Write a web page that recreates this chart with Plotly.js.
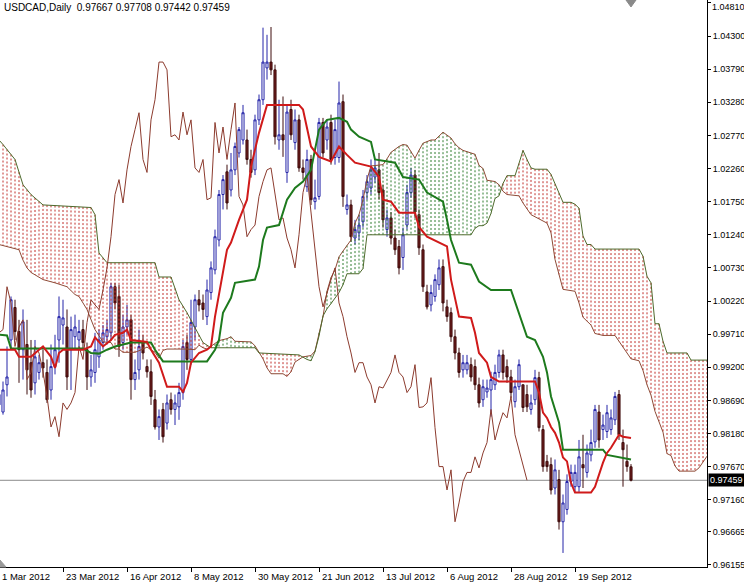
<!DOCTYPE html>
<html><head><meta charset="utf-8">
<script src="https://cdn.plot.ly/plotly-3.0.1.min.js"></script>
<style>html,body{margin:0;padding:0;background:#fff;overflow:hidden}#chart{width:744px;height:583px}</style>
</head><body><div id="chart"></div>
<script>
// ---- chart header ----
const symbolTitle = "USDCAD,Daily";
const lastOHLC = [0.97667, 0.97708, 0.97442, 0.97459];

// ---- x axis labels (bar index -> date text) ----
const dateLabelBars = [0, 16, 32, 48, 64, 80, 96, 112, 128, 144];
const dateLabels = ["1 Mar 2012", "23 Mar 2012", "16 Apr 2012", "8 May 2012", "30 May 2012",
  "21 Jun 2012", "13 Jul 2012", "6 Aug 2012", "28 Aug 2012", "19 Sep 2012"];

// ---- y axis labels ----
const priceTicks = [1.04810, 1.04300, 1.03790, 1.03280, 1.02770, 1.02260, 1.01750, 1.01240, 1.00730,
  1.00220, 0.99710, 0.99200, 0.98690, 0.98180, 0.97670, 0.97160, 0.96665, 0.96155];

// ---- daily candles (bar 0 = 1 Mar 2012) ----
const openP = [0.9862,0.9851,0.9893,0.9962,1.0012,0.9975,0.9947,0.9955,0.9927,0.9896,
0.9912,0.9927,0.9912,0.9885,0.9921,0.9962,0.9985,0.9982,0.9947,0.9967,
0.9962,0.9978,0.9947,0.9905,0.9912,0.9936,0.9958,0.9967,0.9973,1.0044,
1.0029,0.9958,0.9982,0.9993,0.9901,0.9916,0.9958,0.9921,0.9913,0.9870,
0.9828,0.9855,0.9834,0.9870,0.9855,0.9859,0.9881,0.9958,0.9932,0.9982,
1.0024,1.0019,0.9998,1.0035,1.0070,1.0116,1.0186,1.0221,1.0193,1.0224,
1.0250,1.0270,1.0270,1.0240,1.0224,1.0301,1.0332,1.0381,1.0390,1.0378,
1.0270,1.0278,1.0220,1.0317,1.0266,1.0301,1.0227,1.0198,1.0240,1.0175,
1.0183,1.0297,1.0270,1.0297,1.0243,1.0243,1.0329,1.0163,1.0170,1.0119,
1.0127,1.0144,1.0189,1.0196,1.0213,1.0224,1.0193,1.0132,1.0150,1.0119,
1.0106,1.0089,1.0139,1.0189,1.0216,1.0155,1.0101,1.0036,1.0016,1.0029,
1.0047,1.0075,1.0013,1.0004,0.9967,0.9942,0.9916,0.9916,0.9924,0.9921,
0.9893,0.9870,0.9882,0.9885,0.9893,0.9912,0.9939,0.9921,0.9905,0.9867,
0.9890,0.9893,0.9878,0.9855,0.9870,0.9904,0.9824,0.9775,0.9770,0.9734,
0.9747,0.9682,0.9701,0.9744,0.9736,0.9736,0.9770,0.9758,0.9785,0.9805,
0.9851,0.9824,0.9821,0.9824,0.9839,0.9878,0.9804,0.9775,0.97667];
const highP = [0.9893,0.9898,0.9952,1.0029,1.0024,0.9993,1.0009,0.9993,0.9962,0.9962,
0.9939,0.9947,0.9932,0.9955,0.9970,1.0029,1.0024,1.0009,0.9998,1.0001,
0.9993,0.9993,0.9958,0.9939,0.9973,0.9978,0.9985,0.9993,1.0050,1.0050,
1.0047,1.0001,1.0016,1.0001,0.9932,0.9978,0.9970,0.9932,0.9932,0.9885,
0.9855,0.9865,0.9878,0.9881,0.9878,0.9896,0.9962,0.9970,1.0024,1.0032,
1.0039,1.0032,1.0055,1.0083,1.0132,1.0193,1.0216,1.0232,1.0250,1.0266,
1.0290,1.0324,1.0286,1.0255,1.0309,1.0340,1.0443,1.0432,1.0444,1.0386,
1.0332,1.0337,1.0324,1.0332,1.0317,1.0309,1.0240,1.0255,1.0247,1.0209,
1.0304,1.0304,1.0301,1.0309,1.0301,1.0360,1.0340,1.0186,1.0178,1.0147,
1.0155,1.0193,1.0216,1.0240,1.0240,1.0250,1.0201,1.0163,1.0159,1.0132,
1.0116,1.0135,1.0201,1.0227,1.0224,1.0163,1.0109,1.0047,1.0047,1.0063,
1.0086,1.0086,1.0024,1.0012,0.9978,0.9950,0.9939,0.9939,0.9935,0.9932,
0.9904,0.9901,0.9901,0.9913,0.9924,0.9947,0.9947,0.9932,0.9916,0.9901,
0.9932,0.9893,0.9893,0.9878,0.9916,0.9913,0.9831,0.9785,0.9781,0.9778,
0.9762,0.9724,0.9755,0.9770,0.9770,0.9808,0.9816,0.9801,0.9824,0.9862,
0.9862,0.9847,0.9862,0.9855,0.9882,0.9885,0.9824,0.9801,0.97708];
const lowP = [0.9851,0.9847,0.9875,0.9947,0.9962,0.9896,0.9901,0.9878,0.9873,0.9878,
0.9901,0.9904,0.9865,0.9870,0.9909,0.9927,0.9955,0.9885,0.9885,0.9947,
0.9950,0.9947,0.9885,0.9890,0.9896,0.9919,0.9947,0.9955,0.9962,1.0009,
0.9936,0.9947,0.9970,0.9870,0.9885,0.9901,0.9932,0.9904,0.9862,0.9824,
0.9808,0.9804,0.9824,0.9847,0.9831,0.9839,0.9870,0.9916,0.9924,0.9962,
1.0006,0.9993,0.9985,1.0024,1.0063,1.0106,1.0163,1.0163,1.0183,1.0216,
1.0243,1.0263,1.0232,1.0212,1.0216,1.0293,1.0324,1.0363,1.0370,1.0263,
1.0255,1.0244,1.0204,1.0270,1.0255,1.0221,1.0209,1.0190,1.0170,1.0163,
1.0178,1.0243,1.0255,1.0232,1.0232,1.0235,1.0167,1.0155,1.0113,1.0109,
1.0116,1.0135,1.0178,1.0186,1.0204,1.0178,1.0135,1.0121,1.0109,1.0093,
1.0063,1.0070,1.0132,1.0181,1.0150,1.0093,1.0036,1.0009,1.0006,1.0021,
1.0039,1.0006,0.9990,0.9959,0.9932,0.9904,0.9904,0.9909,0.9898,0.9885,
0.9858,0.9859,0.9873,0.9844,0.9885,0.9904,0.9901,0.9896,0.9873,0.9858,
0.9885,0.9851,0.9851,0.9847,0.9862,0.9821,0.9759,0.9759,0.9724,0.9724,
0.9670,0.9634,0.9693,0.9736,0.9728,0.9728,0.9734,0.9750,0.9775,0.9796,
0.9796,0.9808,0.9811,0.9816,0.9831,0.9808,0.9736,0.9759,0.97442];
const closeP = [0.9878,0.9885,0.9905,1.0024,0.9975,0.9947,0.9990,0.9916,0.9885,0.9936,
0.9927,0.9919,0.9870,0.9921,0.9947,0.9998,0.9996,0.9905,0.9978,0.9982,
0.9975,0.9958,0.9905,0.9916,0.9947,0.9962,0.9973,0.9978,1.0044,1.0019,
0.9952,0.9982,0.9993,0.9901,0.9912,0.9952,0.9942,0.9913,0.9875,0.9828,
0.9844,0.9813,0.9865,0.9855,0.9865,0.9881,0.9952,0.9932,0.9989,1.0024,
1.0016,1.0009,1.0039,1.0073,1.0121,1.0186,1.0209,1.0173,1.0224,1.0260,
1.0286,1.0312,1.0240,1.0220,1.0301,1.0332,1.0390,1.0390,1.0378,1.0275,
1.0278,1.0270,1.0313,1.0278,1.0301,1.0227,1.0220,1.0240,1.0178,1.0181,
1.0297,1.0250,1.0290,1.0240,1.0286,1.0327,1.0183,1.0170,1.0121,1.0132,
1.0139,1.0183,1.0206,1.0224,1.0227,1.0189,1.0147,1.0150,1.0119,1.0101,
1.0073,1.0124,1.0189,1.0216,1.0159,1.0104,1.0044,1.0013,1.0035,1.0055,
1.0073,1.0019,0.9998,0.9967,0.9942,0.9912,0.9927,0.9927,0.9905,0.9893,
0.9865,0.9890,0.9888,0.9901,0.9912,0.9939,0.9912,0.9905,0.9881,0.9890,
0.9924,0.9858,0.9859,0.9865,0.9904,0.9827,0.9767,0.9767,0.9731,0.9762,
0.9682,0.9711,0.9744,0.9758,0.9758,0.9782,0.9765,0.9788,0.9804,0.9855,
0.9808,0.9831,0.9850,0.9842,0.9875,0.9816,0.9793,0.9767,0.97459];

// ---- Ichimoku lines (bar index, price) ----
const tenkanBar = [0,4,5,8,10,11,13,14,15,16,21,23,24,25,26,28,29,31,32,33,37,38,40,42,45,46,47,48,50,52,53,54,56,57,58,60,62,63,65,67,75,76,78,80,83,85,87,89,93,95,96,98,100,104,105,107,112,113,115,118,119,120,122,123,125,134,135,136,137,138,139,140,141,142,143,144,148,149,151,152,153,155,156,158];
const tenkanVal = [0.9947,0.9947,0.9936,0.9936,0.9947,0.9952,0.9936,0.9919,0.9942,0.9947,0.9947,0.9952,0.9966,0.9959,0.9952,0.9962,0.9970,0.9973,0.9978,0.9962,0.9959,0.9947,0.9927,0.9890,0.9890,0.9882,0.9896,0.9927,0.9942,0.9947,0.9952,0.9998,1.0070,1.0101,1.0112,1.0147,1.0178,1.0229,1.0281,1.0324,1.0324,1.0317,1.0260,1.0244,1.0237,1.0260,1.0247,1.0235,1.0229,1.0213,1.0178,1.0175,1.0158,1.0158,1.0136,1.0121,1.0106,1.0055,0.9998,0.9996,0.9973,0.9942,0.9927,0.9905,0.9898,0.9898,0.9881,0.9850,0.9842,0.9828,0.9819,0.9804,0.9781,0.9775,0.9742,0.9727,0.9727,0.9736,0.9773,0.9788,0.9796,0.9816,0.9813,0.9811];

const kijunBar = [0,2,3,21,23,25,27,29,33,38,39,41,52,54,55,56,58,59,64,65,66,67,70,71,72,74,76,78,79,80,82,85,87,88,90,93,94,99,101,105,107,111,112,113,115,118,120,123,128,130,132,134,136,137,138,139,140,141,151,152,155,158];
const kijunVal = [0.9970,0.9969,0.9949,0.9949,0.9942,0.9941,0.9947,0.9952,0.9958,0.9958,0.9947,0.9929,0.9929,0.9947,0.9962,1.0004,1.0027,1.0050,1.0055,1.0075,1.0116,1.0135,1.0139,1.0158,1.0178,1.0196,1.0206,1.0224,1.0255,1.0286,1.0301,1.0304,1.0298,1.0286,1.0275,1.0267,1.0240,1.0235,1.0213,1.0209,1.0189,1.0175,1.0147,1.0116,1.0081,1.0078,1.0052,1.0039,1.0039,1.0004,0.9967,0.9962,0.9936,0.9912,0.9875,0.9855,0.9835,0.9793,0.9793,0.9785,0.9782,0.9778];

const spanABar = [0,5,6,7,8,11,14,17,19,20,22,24,
26,28,29,30,31,34,36,37,39,40,41,42,47,49,50,51,52,53,54,55,57,58,59,63,64,65,66,67,68,71,
72,73,74,76,78,79,80,81,82,83,84,85,86,88,89,90,91,92,93,96,97,98,100,101,102,104,105,106,108,109,
111,113,114,115,116,119,120,121,122,124,125,126,127,130,131,133,137,138,139,141,144,145,146,148,149,151,154,156,158,160,
161,162,163,164,165,166,167,168,169,170,174,175,177,178,179,181,182,184];
const spanAVal = [1.0109,1.0101,1.0085,1.0073,1.0066,1.0055,1.0050,1.0044,1.0032,1.0029,1.0009,0.9978,
0.9959,0.9958,0.9948,0.9948,0.9943,0.9943,0.9948,0.9951,0.9943,0.9934,0.9946,0.9948,0.9948,0.9947,0.9954,0.9950,0.9948,0.9952,0.9956,0.9961,0.9964,0.9967,0.9960,0.9959,0.9953,0.9942,0.9933,0.9919,0.9910,0.9910,
0.9906,0.9913,0.9928,0.9936,0.9938,0.9945,0.9973,0.9998,1.0037,1.0058,1.0070,1.0090,1.0099,1.0116,1.0142,1.0155,1.0178,1.0209,1.0230,1.0232,1.0241,1.0251,1.0260,1.0263,1.0262,1.0242,1.0254,1.0265,1.0270,1.0270,
1.0282,1.0273,1.0264,1.0258,1.0254,1.0248,1.0231,1.0226,1.0208,1.0206,1.0201,1.0191,1.0186,1.0184,1.0173,1.0155,1.0142,1.0127,1.0086,1.0040,1.0037,1.0019,0.9997,0.9985,0.9972,0.9969,0.9969,0.9951,0.9933,0.9930,
0.9915,0.9893,0.9877,0.9852,0.9837,0.9820,0.9787,0.9784,0.9768,0.9760,0.9760,0.9765,0.9783,0.9787,0.9790,0.9799,0.9797,0.9795];

const spanBBar = [0,1,4,6,8,11,23,24,25,27,39,40,43,45,47,48,51,53,64,65,75,77,78,79,80,81,82,83,84,85,86,87,90,91,92,118,119,120,121,122,123,124,125,126,127,129,130,131,132,133,134,137,138,139,140,141,143,144,145,146,147,148,149,160,161,162,163,164,165,166,167,172,173,180];
const spanBVal = [1.0270,1.0263,1.0240,1.0201,1.0186,1.0170,1.0166,1.0155,1.0096,1.0081,1.0081,1.0059,1.0059,1.0024,1.0004,0.9993,0.9958,0.9950,0.9950,0.9942,0.9939,0.9932,0.9930,0.9944,0.9968,0.9999,1.0010,1.0018,1.0027,1.0035,1.0047,1.0064,1.0064,1.0072,1.0124,1.0124,1.0134,1.0138,1.0138,1.0142,1.0157,1.0180,1.0184,1.0203,1.0215,1.0215,1.0234,1.0254,1.0240,1.0227,1.0225,1.0225,1.0217,1.0202,1.0188,1.0174,1.0174,1.0171,1.0165,1.0122,1.0109,1.0109,1.0102,1.0102,1.0091,1.0060,1.0050,0.9987,0.9987,0.9960,0.9942,0.9942,0.9931,0.9931];

const chikouShift = 26;

// ---------------- build ----------------
const bars = openP.map((_, i) => i);
const chikouBars = bars.slice(0, bars.length - chikouShift);
const chikouVal = closeP.slice(chikouShift);
const X_RANGE = [0.25, 177];
const Y_RANGE = [0.961235, 1.04856];

function lineAt(xs, ys, x) {
  if (x <= xs[0]) return ys[0];
  for (let k = 0; k < xs.length - 1; k++) {
    if (x >= xs[k] && x <= xs[k + 1]) {
      const t = (x - xs[k]) / (xs[k + 1] - xs[k]);
      return ys[k] + t * (ys[k + 1] - ys[k]);
    }
  }
  return ys[ys.length - 1];
}
// cloud hatching: one dotted vertical stroke per bar between span A and span B
const redX = [], redY = [], grnX = [], grnY = [];
for (let i = 0; i <= 178; i++) {
  const a = lineAt(spanABar, spanAVal, i), b = lineAt(spanBBar, spanBVal, i);
  if (Math.abs(a - b) < 1e-6) continue;
  if (b > a) { redX.push(i, i, null); redY.push(b, a, null); }
  else { grnX.push(i, i, null); grnY.push(a, b, null); }
}

const FONT = "Liberation Sans, Arial, sans-serif";
const traces = [
  {x: redX, y: redY, type: "scatter", mode: "lines", line: {color: "#c0302c", width: 1, dash: "2px,2px"}, hoverinfo: "skip"},
  {x: grnX, y: grnY, type: "scatter", mode: "lines", line: {color: "#2e7d2e", width: 1, dash: "2px,2px"}, hoverinfo: "skip"},
  {x: spanABar, y: spanAVal, type: "scatter", mode: "lines", line: {color: "#8e4a36", width: 1}, hoverinfo: "skip"},
  {x: spanBBar, y: spanBVal, type: "scatter", mode: "lines", line: {color: "#4e6a2c", width: 1}, hoverinfo: "skip"},
  {x: chikouBars, y: chikouVal, type: "scatter", mode: "lines", line: {color: "#8c3b2e", width: 1}, hoverinfo: "skip"},
  {x: bars, open: openP, high: highP, low: lowP, close: closeP, type: "candlestick",
   increasing: {line: {color: "#2424a8", width: 1}, fillcolor: "#ffffff"},
   decreasing: {line: {color: "#3e0d0d", width: 1}, fillcolor: "#6e1c1c"},
   whiskerwidth: 0, hoverinfo: "skip"},
  {x: kijunBar, y: kijunVal, type: "scatter", mode: "lines", line: {color: "#1d7a1d", width: 2}, hoverinfo: "skip"},
  {x: tenkanBar, y: tenkanVal, type: "scatter", mode: "lines", line: {color: "#d01a1a", width: 2}, hoverinfo: "skip"}
];

const annotations = [
  {xref: "paper", yref: "paper", x: 0, y: 1, xanchor: "left", yanchor: "top", xshift: 2, yshift: 0,
   text: symbolTitle + "\u00a0\u00a0" + lastOHLC.map(v => v.toFixed(5)).join(" "),
   showarrow: false, font: {family: FONT, size: 10, color: "#000"}},
  {xref: "paper", yref: "y", x: 1, y: lastOHLC[3], xanchor: "left", yanchor: "middle", xshift: 1,
   text: lastOHLC[3].toFixed(5), showarrow: false, bgcolor: "#000", borderpad: 1,
   font: {family: FONT, size: 9, color: "#fff"}},
  // top price label kept fully inside the picture
  {xref: "paper", yref: "paper", x: 1, y: 1, xanchor: "left", yanchor: "top", xshift: 3, yshift: 0,
   text: priceTicks[0].toFixed(5), showarrow: false, font: {family: FONT, size: 9, color: "#000"}}
];
dateLabelBars.forEach((b, k) => annotations.push({
  xref: "paper", yref: "paper", x: (b - X_RANGE[0]) / (X_RANGE[1] - X_RANGE[0]), y: 0,
  xanchor: "left", yanchor: "top", xshift: 1, yshift: -2,
  text: dateLabels[k], showarrow: false, font: {family: FONT, size: 9.5, color: "#000"}
}));

const layout = {
  width: 744, height: 583,
  margin: {l: 0, r: 37, t: 0, b: 16, pad: 0},
  paper_bgcolor: "#ffffff", plot_bgcolor: "#ffffff",
  showlegend: false, boxgap: 0.25,
  xaxis: {range: X_RANGE, showgrid: false, zeroline: false, showline: true, linecolor: "#000", linewidth: 1,
          ticks: "outside", ticklen: 4, tickcolor: "#000", tickvals: dateLabelBars, showticklabels: false,
          rangeslider: {visible: false}, fixedrange: true},
  yaxis: {side: "right", range: Y_RANGE, showgrid: false, zeroline: false, showline: true,
          linecolor: "#000", linewidth: 1, ticks: "outside", ticklen: 3, tickcolor: "#000",
          tickvals: priceTicks, ticktext: priceTicks.map((v, k) => k === 0 ? "" : v.toFixed(5)),
          ticklabeloverflow: "allow",
          tickfont: {family: FONT, size: 9, color: "#000"}, fixedrange: true},
  shapes: [
    {type: "line", xref: "paper", yref: "y", x0: 0, x1: 1, y0: lastOHLC[3], y1: lastOHLC[3],
     line: {color: "#8a8a8a", width: 1}, layer: "below"},
    {type: "path", xref: "paper", yref: "paper", path: "M 0.8854 1 L 0.8996 1 L 0.8925 0.9877 Z",
     fillcolor: "#8a8a8a", line: {color: "#8a8a8a", width: 1}},
    {type: "path", xref: "paper", yref: "paper", path: "M 0 0.0123 L 0.0085 0 L 0 0 Z",
     fillcolor: "#9a9a9a", line: {color: "#9a9a9a", width: 1}}
  ],
  annotations: annotations
};

Plotly.newPlot("chart", traces, layout, {staticPlot: true, displayModeBar: false});
</script>
</body></html>
